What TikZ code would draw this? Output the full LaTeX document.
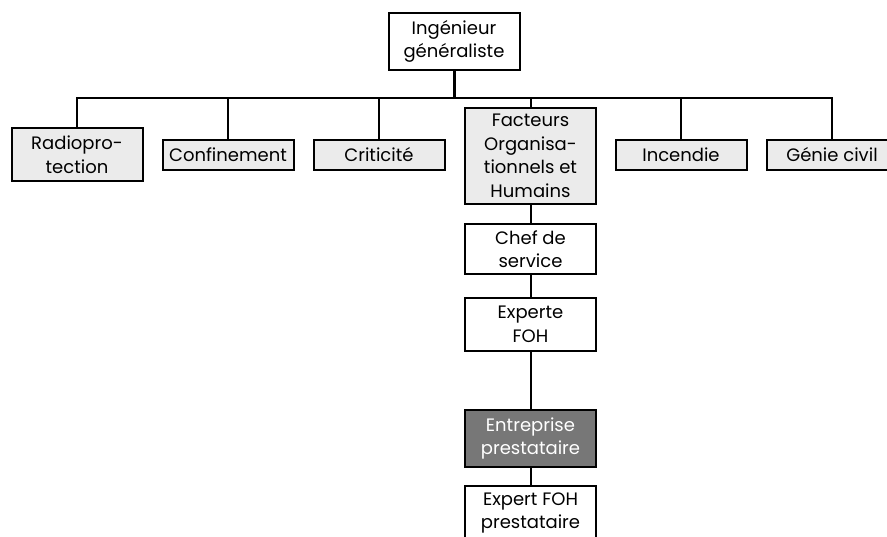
\documentclass[tikz,border=0pt]{standalone}
\usepackage{fontspec}
\setmainfont{Poppins}
\definecolor{boxgray}{HTML}{EBEBEB}
\definecolor{darkbox}{HTML}{777777}
\begin{document}
\begin{tikzpicture}[x=1pt,y=-1pt,
  unit/.style={draw=black,line width=2pt,rectangle,minimum width=131pt,
    inner sep=1pt,align=center,font=\fontsize{18}{23.5}\selectfont},
  deptbox/.style={unit,fill=boxgray},
  plainbox/.style={unit,fill=white},
  darkbox/.style={unit,fill=darkbox,text=white},
  link/.style={line width=2pt},
  stem/.style={line width=3pt}]
\useasboundingbox (0,0) rectangle (887,536);
% head of the organisation
\node[plainbox,minimum height=57pt] (ing) at (454,41.5) {Ingénieur\\généraliste};
% specialist departments
\node[deptbox,minimum height=53pt] (radio) at (77,154.5) {Radiopro-\\tection};
\node[deptbox,minimum height=30pt] (conf) at (228,155) {Confinement};
\node[deptbox,minimum height=30pt] (crit) at (379,155) {Criticité};
\node[deptbox,minimum height=96pt] (foh) at (530.5,156) {Facteurs\\Organisa-\\tionnels et\\Humains};
\node[deptbox,minimum height=30pt] (inc) at (681,155) {Incendie};
\node[deptbox,minimum height=30pt] (gc) at (832,155) {Génie civil};
% FOH line
\node[plainbox,minimum height=50pt] (chef) at (530.5,249) {Chef de\\service};
\node[plainbox,minimum height=53pt] (exp) at (530.5,324.5) {Experte\\FOH};
\node[darkbox,minimum height=57pt] (ent) at (530.5,438.5) {Entreprise\\prestataire};
\node[plainbox,minimum height=54pt] (prest) at (530.5,513) {Expert FOH\\prestataire};
% connectors
\coordinate (bus) at (454,98);
\draw[stem] (ing.south) -- (bus);
\foreach \n in {radio,conf,crit,foh,inc,gc}
  \draw[link] (\n.north) |- (bus);
\draw[link] (foh) -- (chef);
\draw[link] (chef) -- (exp);
\draw[link] (exp) -- (ent);
\draw[link] (ent) -- (prest);
\end{tikzpicture}
\end{document}
